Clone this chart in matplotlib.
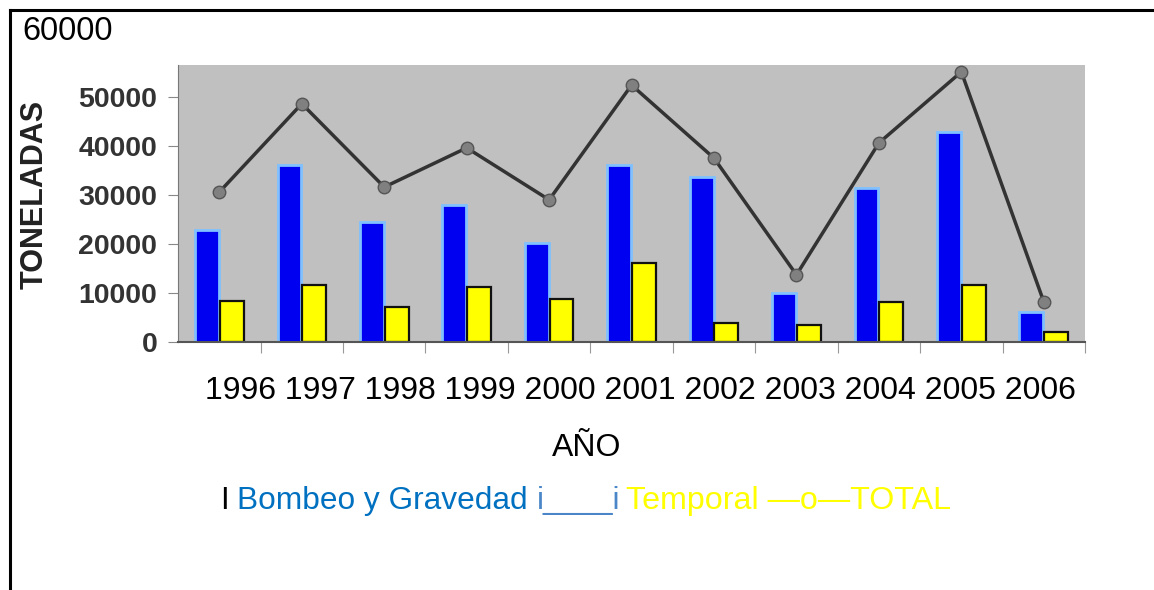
import numpy as np
import matplotlib
matplotlib.use('Agg')
import matplotlib.pyplot as plt
from matplotlib.lines import Line2D

plt.rcParams['font.family'] = ['Liberation Sans', 'DejaVu Sans']

years = ['1996', '1997', '1998', '1999', '2000', '2001', '2002', '2003', '2004', '2005', '2006']
bombeo = [22900, 36100, 24500, 28000, 20200, 36100, 33700, 10000, 31400, 42900, 6100]
temporal = [8400, 11600, 7100, 11200, 8800, 16100, 3900, 3500, 8200, 11600, 2000]
total = [30600, 48600, 31600, 39600, 29000, 52400, 37500, 13700, 40600, 55100, 8200]
yticks = [0, 10000, 20000, 30000, 40000, 50000]

fig = plt.figure(figsize=(11.54, 5.90), dpi=100)
ax = fig.add_axes([178/1154, 1 - 342/590, (1085-178)/1154, (342-65)/590])
ax.set_facecolor('#c0c0c0')

x = np.arange(len(years))
w = 0.29
ax.bar(x - 0.15, bombeo, w, color='#0000f0', edgecolor='#80c0ff', linewidth=2, zorder=2)
ax.bar(x + 0.15, temporal, w, color='#ffff00', edgecolor='#111111', linewidth=1.6, zorder=2)
ax.plot(x, total, color='#333333', linewidth=2.5, marker='o', markersize=9,
        markerfacecolor='#808080', markeredgecolor='#555555', zorder=3)

ax.set_xlim(-0.502, 10.08)
ax.set_ylim(0, 56500)
ax.set_yticks(yticks)
ax.set_yticklabels([str(v) for v in yticks], fontsize=20.5, fontweight='bold', color='#333333')
ax.set_xticks(x + 0.5)
ax.set_xticklabels([])
ax.tick_params(axis='y', length=7, color='#888888', pad=8)
ax.tick_params(axis='x', length=8, color='#999999', direction='out')
for s in ['top', 'right']:
    ax.spines[s].set_visible(False)
ax.spines['left'].set_color('#777777')
ax.spines['bottom'].set_color('#555555')
ax.spines['bottom'].set_linewidth(1.5)

fig.text(35/1154, 1 - 194/590, 'TONELADAS', rotation=90, fontsize=22, fontweight='bold',
         color='#222222', ha='center', va='center')
fig.text(22/1154, 1 - 31/590, '60000', fontsize=23.5, ha='left', va='center')
fig.text(640/1154, 1 - 391/590, ' '.join(years), fontsize=23, ha='center', va='center')
fig.text(587/1154, 1 - 448/590, 'AÑO', fontsize=23, ha='center', va='center')

ly = 1 - 501/590
fig.text(220/1154, ly, 'I', fontsize=22.5, color='black', va='center')
fig.text(237/1154, ly, 'Bombeo y Gravedad', fontsize=22.8, color='#0070c0', va='center')
fig.text(537/1154, ly, 'i____i', fontsize=22.5, color='#4a86c8', va='center')
fig.text(626/1154, ly, 'Temporal —o—TOTAL', fontsize=23.2, color='#ffff00', va='center')

# page border (top and left only)
fig.add_artist(Line2D([10/1154, 10/1154], [0, 1 - 10/590], color='black', linewidth=2.2,
                      transform=fig.transFigure))
fig.add_artist(Line2D([10/1154, 1], [1 - 10/590, 1 - 10/590], color='black', linewidth=2.2,
                      transform=fig.transFigure))

fig.savefig('out.png', dpi=100)
